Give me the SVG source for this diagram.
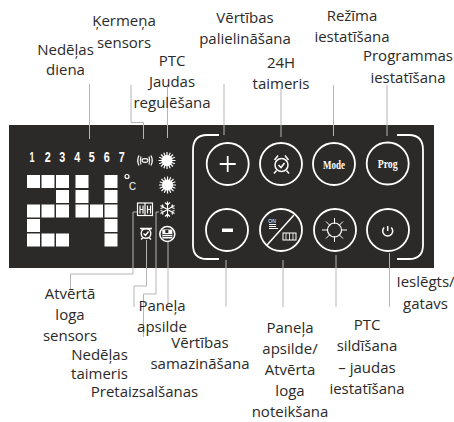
<svg xmlns="http://www.w3.org/2000/svg" width="454" height="422" viewBox="0 0 454 422">
<style>
.lb{font-family:"Open Sans","Noto Sans",sans-serif;font-size:15px;fill:#2b2a29;text-anchor:middle}
.ld{fill:none;stroke:#b5b5b5;stroke-width:1}
.w{fill:#fff}
.ln{fill:none;stroke:#fff;stroke-width:1.5}
.btn{fill:none;stroke:#fff;stroke-width:1.800}
.d{font-family:"Liberation Sans",sans-serif;font-weight:bold;font-size:14px;fill:#fff;text-anchor:middle}
.m{font-family:"Liberation Serif",serif;font-weight:bold;font-size:13px;fill:#fff;text-anchor:middle}
</style>
<defs>
<g id="sun"><circle r="5.500" fill="#fff"/><path d="M0-8.500V8.500M-8.500 0H8.500M-6-6L6 6M-6 6L6-6M-3.200-7.800L3.200 7.800M3.200-7.800L-3.200 7.800M-7.800-3.200L7.800 3.200M-7.800 3.200L7.800-3.200" stroke="#fff" stroke-width="1.200" fill="none"/></g>
<rect id="s" width="13" height="13" fill="#fff"/>
</defs>
<rect width="454" height="422" fill="#fff"/>
<rect id="panel" x="9" y="125" width="425" height="143" fill="#2b2a29"/>
<g id="display">
<g class="digits">
<text class="d" x="32" y="162" textLength="5" lengthAdjust="spacingAndGlyphs">1</text><text class="d" x="47.700" y="162" textLength="6" lengthAdjust="spacingAndGlyphs">2</text><text class="d" x="62.300" y="162" textLength="6" lengthAdjust="spacingAndGlyphs">3</text><text class="d" x="77.300" y="162" textLength="6" lengthAdjust="spacingAndGlyphs">4</text><text class="d" x="91.700" y="162" textLength="6" lengthAdjust="spacingAndGlyphs">5</text><text class="d" x="106.700" y="162" textLength="6" lengthAdjust="spacingAndGlyphs">6</text><text class="d" x="121.700" y="162" textLength="6" lengthAdjust="spacingAndGlyphs">7</text>
</g>
<use href="#s" x="27" y="175"/><use href="#s" x="41.500" y="175"/><use href="#s" x="56" y="175"/><use href="#s" x="75.500" y="175"/><use href="#s" x="104.500" y="175"/>
<use href="#s" x="56" y="190"/><use href="#s" x="75.500" y="190"/><use href="#s" x="104.500" y="190"/>
<use href="#s" x="27" y="204.500"/><use href="#s" x="41.500" y="204.500"/><use href="#s" x="56" y="204.500"/><use href="#s" x="75.500" y="204.500"/><use href="#s" x="90" y="204.500"/><use href="#s" x="104.500" y="204.500"/>
<use href="#s" x="27" y="219"/><use href="#s" x="104.500" y="219"/>
<use href="#s" x="27" y="233.500"/><use href="#s" x="41.500" y="233.500"/><use href="#s" x="56" y="233.500"/><use href="#s" x="104.500" y="233.500"/>
<circle cx="127" cy="176.500" r="2" fill="none" stroke="#fff" stroke-width="1.200"/>
<text x="132.500" y="189.500" font-family="Liberation Sans,sans-serif" font-size="11" fill="#fff" text-anchor="middle" textLength="7" lengthAdjust="spacingAndGlyphs">C</text>
</g>
<g id="icon-body-sensor" class="ln" style="stroke-width:1.200">
<ellipse cx="145" cy="160.500" rx="3" ry="1.800"/><path d="M141 156.500q-1.500 4 0 8M149 156.500q1.500 4 0 8M139 155.500q-2.500 5 0 10M151 155.500q2.500 5 0 10"/>
</g>
<use id="icon-sun-1" href="#sun" x="167" y="160.500"/>
<use id="icon-sun-2" href="#sun" x="167.500" y="185"/>
<g id="icon-window" class="ln" style="stroke-width:1.200">
<rect x="137.500" y="203" width="15" height="12.500"/><path d="M145 203v12.500M140 205.500v8M143 205.500v8M147.500 205.500v8M150.500 205.500v8M140 209.500h3M147.500 209.500h3"/>
</g>
<g id="icon-frost" class="ln" style="stroke-width:1.100">
<path d="M167.500 201.500v16M160.500 205.500l14 8M160.500 213.500l14-8M165 202.500l2.500 2.500 2.500-2.500M165 216.500l2.500-2.500 2.500 2.500M160.500 208.500l3-1-1-3M174.500 208.500l-3-1 1-3M160.500 210.500l3 1-1 3M174.500 210.500l-3 1 1 3"/>
</g>
<g id="icon-week-timer" class="ln" style="stroke-width:1.400">
<circle cx="146" cy="233.500" r="4.800"/><path d="M140 228.500l12 0M140.500 228l2.500 2M151.500 228l-2.500 2M143.500 233.500l2 2 3-4M141 239.500l2-2M151 239.500l-2-2"/>
</g>
<g id="icon-panel-heat">
<circle cx="167.300" cy="234" r="7.500" fill="none" stroke="#fff" stroke-width="1.600"/>
<rect x="162.300" y="229.500" width="10" height="9" fill="#fff"/><path d="M162.300 234.500h10M162.300 236.500h10" stroke="#2b2a29" stroke-width="0.800"/><rect x="165.300" y="230" width="3" height="3" fill="#2b2a29"/>
</g>
<g id="bracket-left"><path class="btn" d="M219 135H207Q193 135 193 150V245Q193 259 207 259H219"/></g>
<g id="bracket-right"><path class="btn" d="M397 135H409Q423 135 423 150V245Q423 259 409 259H397"/></g>
<g id="btn-plus"><circle class="btn" cx="227.700" cy="164" r="21"/><path d="M227.700 156v16M219.700 164h16" stroke="#fff" stroke-width="1.800"/></g>
<g id="btn-timer"><circle class="btn" cx="281" cy="164" r="21"/><g class="ln" style="stroke-width:1.500"><circle cx="281.500" cy="165" r="6.500"/><path d="M278.500 165l2.500 2.500 3.500-4.500M274.500 160l3.500-4.500M288.500 160l-3.500-4.500M276.500 170.500l-2.500 3M286.500 170.500l2.500 3"/></g></g>
<g id="btn-mode"><circle class="btn" cx="334" cy="164" r="21"/><text class="m" x="334" y="168.500" textLength="22" lengthAdjust="spacingAndGlyphs">Mode</text></g>
<g id="btn-prog"><circle class="btn" cx="387.700" cy="163.500" r="21"/><text class="m" x="387.700" y="167.500" textLength="20" lengthAdjust="spacingAndGlyphs">Prog</text></g>
<g id="btn-minus"><circle class="btn" cx="227" cy="230" r="21"/><rect x="222" y="228.500" width="11" height="3.500" fill="#fff"/></g>
<g id="btn-panel-window"><circle class="btn" cx="281" cy="230" r="21"/><path d="M267 245L294 215" stroke="#fff" stroke-width="1.500"/>
<text x="272" y="222.500" font-family="Liberation Sans,sans-serif" font-size="5" fill="#fff" text-anchor="middle">ON</text><path d="M269 224.500h7M269 226.500h7M269 228.500h9" stroke="#fff" stroke-width="1"/>
<rect x="283" y="233" width="13" height="7" fill="none" stroke="#fff" stroke-width="1"/><path d="M289.500 233v7M286 233v7M293 233v7" stroke="#fff" stroke-width="0.800"/></g>
<g id="btn-ptc"><circle class="btn" cx="335" cy="230" r="21"/><circle cx="334.500" cy="230" r="7" fill="none" stroke="#fff" stroke-width="1.200"/><path d="M334.500 218v6M334.500 236v6M322 230h6M341 230h6M326 221.500l4 4M339 234.500l4 4M326 238.500l4-4M339 225.500l4-4" stroke="#fff" stroke-width="1"/></g>
<g id="btn-power"><circle class="btn" cx="388" cy="230" r="21"/><path d="M387.700 226v5M384.200 227.500a5 5 0 1 0 7 0" fill="none" stroke="#fff" stroke-width="1.500"/></g>
<g id="connectors">
<path class="ld" d="M89.500 84V139M131 85V122.500H143.500V139M167.500 87V138M224 84V135M281 88V137M333.500 85V136M387 85V136"/>
<path class="ld" d="M226 260V306.500M283 260V307M336 255V307M389.500 253V307"/>
<path class="ld" d="M137 212H133V274H70.500V290M146.500 240V286H134V307M159 212H156V294H143.500V337M168 242V303"/>
</g>
<g id="lbl-week-day"><text class="lb" x="65.500" y="55">Nedēļas</text><text class="lb" x="65.500" y="75">diena</text></g>
<g id="lbl-body-sensor"><text class="lb" x="124" y="26">Ķermeņa</text><text class="lb" x="124" y="48">sensors</text></g>
<g id="lbl-ptc-power"><text class="lb" x="172" y="66">PTC</text><text class="lb" x="172" y="87">Jaudas</text><text class="lb" x="172" y="108">regulēšana</text></g>
<g id="lbl-increase"><text class="lb" x="245" y="23">Vērtības</text><text class="lb" x="245" y="44">palielināšana</text></g>
<g id="lbl-24h"><text class="lb" x="281" y="68">24H</text><text class="lb" x="281" y="89">taimeris</text></g>
<g id="lbl-mode"><text class="lb" x="352" y="21">Režīma</text><text class="lb" x="352" y="42">iestatīšana</text></g>
<g id="lbl-prog"><text class="lb" x="408" y="61">Programmas</text><text class="lb" x="408" y="83">iestatīšana</text></g>
<g id="lbl-power"><text class="lb" x="425.500" y="287">Ieslēgts/</text><text class="lb" x="425.500" y="309">gatavs</text></g>
<g id="lbl-window"><text class="lb" x="70" y="299">Atvērtā</text><text class="lb" x="70" y="320">loga</text><text class="lb" x="70" y="341">sensors</text></g>
<g id="lbl-week-timer"><text class="lb" x="99.500" y="360">Nedēļas</text><text class="lb" x="99.500" y="379">taimeris</text></g>
<g id="lbl-frost"><text class="lb" x="144.500" y="397">Pretaizsalšanas</text></g>
<g id="lbl-panel-heat"><text class="lb" x="162" y="311">Paneļa</text><text class="lb" x="162" y="332">apsilde</text></g>
<g id="lbl-decrease"><text class="lb" x="200" y="348">Vērtības</text><text class="lb" x="200" y="369">samazināšana</text></g>
<g id="lbl-panel-window"><text class="lb" x="290" y="333">Paneļa</text><text class="lb" x="290" y="354">apsilde/</text><text class="lb" x="290" y="375">Atvērta</text><text class="lb" x="290" y="396">loga</text><text class="lb" x="290" y="417">noteikšana</text></g>
<g id="lbl-ptc-heat"><text class="lb" x="367" y="330">PTC</text><text class="lb" x="367" y="351">sildīšana</text><text class="lb" x="367" y="373">– jaudas</text><text class="lb" x="367" y="394">iestatīšana</text></g>
</svg>
